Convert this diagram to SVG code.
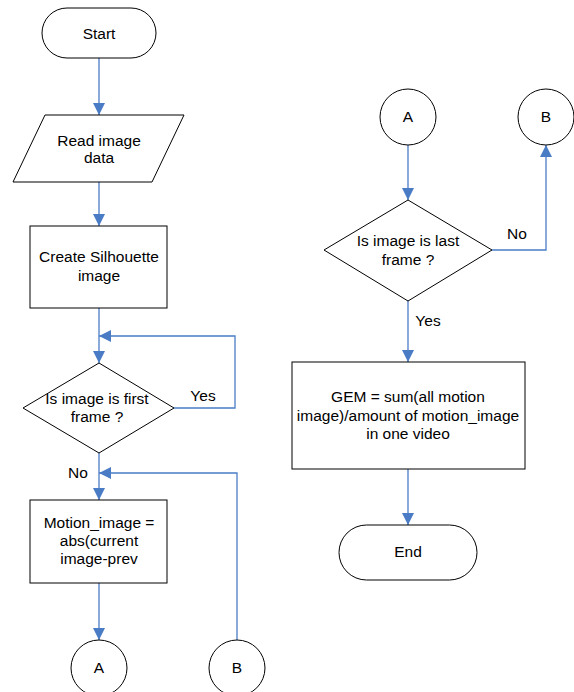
<svg xmlns="http://www.w3.org/2000/svg" width="574" height="692" viewBox="0 0 574 692">
<defs>
<marker id="ah" markerUnits="userSpaceOnUse" markerWidth="12" markerHeight="12" viewBox="0 0 10 10" refX="10" refY="5" orient="auto">
<path d="M0,0 L10,5 L0,10 Z" fill="#4A7CC6"/>
</marker>
<style>
.shape{fill:#fff;stroke:#000;stroke-width:1}
.conn{fill:none;stroke:#4A7CC6;stroke-width:1.3}
text{font-family:"Liberation Sans",Arial,sans-serif;font-size:15.5px;fill:#000;text-anchor:middle}
</style>
</defs>
<rect width="574" height="692" fill="#fff"/>
<g id="connectors">
<path class="conn" d="M99,58 V115" marker-end="url(#ah)"/>
<path class="conn" d="M99,182 V226" marker-end="url(#ah)"/>
<path class="conn" d="M99,308 V363" marker-end="url(#ah)"/>
<path class="conn" d="M174,408 H235 V336 H99" marker-end="url(#ah)"/>
<path class="conn" d="M99,453 V500" marker-end="url(#ah)"/>
<path class="conn" d="M237,640 V473 H99" marker-end="url(#ah)"/>
<path class="conn" d="M99,583 V640" marker-end="url(#ah)"/>
<path class="conn" d="M408,145 V200" marker-end="url(#ah)"/>
<path class="conn" d="M492,250 H546 V145" marker-end="url(#ah)"/>
<path class="conn" d="M408,301 V362" marker-end="url(#ah)"/>
<path class="conn" d="M408,469 V525" marker-end="url(#ah)"/>
<text x="203" y="401">Yes</text>
<text x="78" y="478">No</text>
<text x="517" y="239">No</text>
<text x="428" y="326">Yes</text>
</g>
<g id="start">
<rect class="shape" x="42" y="8" width="114" height="50" rx="25" ry="25"/>
<text x="99" y="38.5">Start</text>
</g>
<g id="read">
<polygon class="shape" points="45,115 184,115 152,182 13,182"/>
<text x="99" y="145.5">Read image</text>
<text x="99" y="163">data</text>
</g>
<g id="silhouette">
<rect class="shape" x="30" y="226" width="137" height="82"/>
<text x="99" y="262">Create Silhouette</text>
<text x="99" y="281">image</text>
</g>
<g id="first">
<polygon class="shape" points="99,363 174,408 99,453 23,408"/>
<text x="97" y="404">Is image is first</text>
<text x="97" y="422">frame ?</text>
</g>
<g id="motion">
<rect class="shape" x="30" y="500" width="137" height="83"/>
<text x="99" y="528">Motion_image =</text>
<text x="99" y="546">abs(current</text>
<text x="99" y="564">image-prev</text>
</g>
<g id="a1">
<circle class="shape" cx="99" cy="668" r="28"/>
<text x="99" y="673">A</text>
</g>
<g id="b1">
<circle class="shape" cx="237" cy="668" r="28"/>
<text x="237" y="673">B</text>
</g>
<g id="a2">
<circle class="shape" cx="408" cy="117" r="28"/>
<text x="408" y="122">A</text>
</g>
<g id="b2">
<circle class="shape" cx="546" cy="117" r="28"/>
<text x="546" y="122">B</text>
</g>
<g id="last">
<polygon class="shape" points="408,200 492,250 408,301 324,250"/>
<text x="408" y="246">Is image is last</text>
<text x="408" y="265">frame ?</text>
</g>
<g id="gem">
<rect class="shape" x="292" y="362" width="233" height="107"/>
<text x="408" y="402">GEM = sum(all motion</text>
<text x="408" y="421">image)/amount of motion_image</text>
<text x="408" y="439">in one video</text>
</g>
<g id="end">
<rect class="shape" x="339" y="525" width="138" height="55" rx="27.5" ry="27.5"/>
<text x="408" y="557">End</text>
</g>
</svg>
